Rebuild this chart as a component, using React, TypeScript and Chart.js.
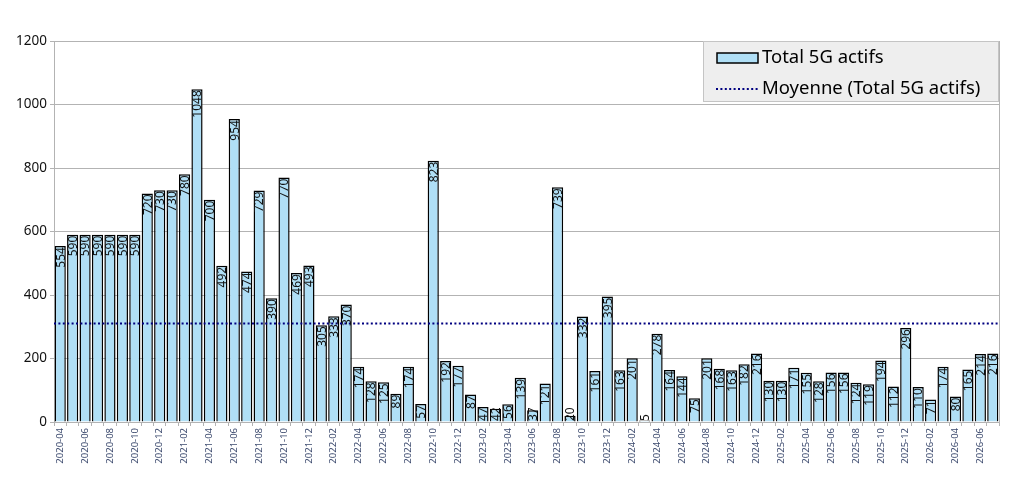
import { useEffect, useRef } from "react"
import { Chart, registerables } from "chart.js"

Chart.register(...registerables)

const months = [
  "2020-04", "2020-05", "2020-06", "2020-07", "2020-08", "2020-09", "2020-10", "2020-11", "2020-12",
  "2021-01", "2021-02", "2021-03", "2021-04", "2021-05", "2021-06", "2021-07", "2021-08", "2021-09", "2021-10", "2021-11", "2021-12",
  "2022-01", "2022-02", "2022-03", "2022-04", "2022-05", "2022-06", "2022-07", "2022-08", "2022-09", "2022-10", "2022-11", "2022-12",
  "2023-01", "2023-02", "2023-03", "2023-04", "2023-05", "2023-06", "2023-07", "2023-08", "2023-09", "2023-10", "2023-11", "2023-12",
  "2024-01", "2024-02", "2024-03", "2024-04", "2024-05", "2024-06", "2024-07", "2024-08", "2024-09", "2024-10", "2024-11", "2024-12",
  "2025-01", "2025-02", "2025-03", "2025-04", "2025-05", "2025-06", "2025-07", "2025-08", "2025-09", "2025-10", "2025-11", "2025-12",
  "2026-01", "2026-02", "2026-03", "2026-04", "2026-05", "2026-06", "2026-07",
]

const totals = [
  554, 590, 590, 590, 590, 590, 590, 720, 730,
  730, 780, 1048, 700, 492, 954, 474, 729, 390, 770, 469, 493,
  305, 333, 370, 174, 128, 125, 89, 174, 57, 823, 192, 177,
  87, 47, 42, 56, 139, 37, 121, 739, 20, 332, 161, 395,
  163, 201, 5, 278, 164, 144, 75, 201, 168, 163, 182, 216,
  130, 130, 171, 155, 128, 156, 156, 124, 119, 194, 112, 296,
  110, 71, 174, 80, 165, 214, 216,
]

const yTicks = [0, 200, 400, 600, 800, 1000, 1200]

const seriesName = "Total 5G actifs"
const meanName = "Moyenne (Total 5G actifs)"

const mean = totals.reduce((a, b) => a + b, 0) / totals.length

const BAR_FILL = "#b0dff6"
const MEAN_COLOR = "#000080"
const GRID = "#b3b3b3"
const FONT = "'Noto Sans', 'Open Sans', sans-serif"

// value labels, rotated, hanging from the top of each bar
const barLabels = {
  id: "barLabels",
  afterDatasetsDraw(chart: Chart) {
    const meta = chart.getDatasetMeta(1)
    const ctx = chart.ctx
    const base = chart.scales.y.getPixelForValue(0)
    ctx.save()
    ctx.font = `12px ${FONT}`
    ctx.fillStyle = "#111"
    ctx.textAlign = "right"
    ctx.textBaseline = "alphabetic"
    meta.data.forEach((bar: any, i: number) => {
      const text = String(totals[i])
      const len = ctx.measureText(text).width
      // short bars: keep the label above the axis
      const top = Math.min(bar.y + 1, base - len - 1)
      ctx.save()
      ctx.translate(bar.x, top)
      ctx.rotate(-Math.PI / 2)
      ctx.fillText(text, 0, 4.3)
      ctx.restore()
    })
    ctx.restore()
  },
}

// legend box inside the top right corner of the plot
const boxLegend = {
  id: "boxLegend",
  afterDraw(chart: Chart) {
    const { ctx, chartArea } = chart
    const w = 296
    const h = 61
    const x = chartArea.right - w
    const y = chartArea.top
    ctx.save()
    ctx.fillStyle = "#eeeeee"
    ctx.fillRect(x, y, w, h)
    ctx.strokeStyle = "#c4c4c4"
    ctx.lineWidth = 1
    ctx.strokeRect(x + 0.5, y + 0.5, w - 1, h - 1)

    // bar swatch
    ctx.fillStyle = BAR_FILL
    ctx.fillRect(x + 14, y + 12, 41, 10)
    ctx.strokeStyle = "#000"
    ctx.lineWidth = 1.5
    ctx.strokeRect(x + 14, y + 12, 41, 10)

    // dotted swatch
    ctx.strokeStyle = MEAN_COLOR
    ctx.lineWidth = 2
    ctx.setLineDash([2, 2.4])
    ctx.beginPath()
    ctx.moveTo(x + 13, y + 48)
    ctx.lineTo(x + 56, y + 48)
    ctx.stroke()
    ctx.setLineDash([])

    ctx.fillStyle = "#000"
    ctx.font = `18.5px ${FONT}`
    ctx.textAlign = "left"
    ctx.textBaseline = "middle"
    ctx.fillText(seriesName, x + 59, y + 17)
    ctx.fillText(meanName, x + 59, y + 48)
    ctx.restore()
  },
}

export default function App() {
  const chartRef = useRef<HTMLCanvasElement>(null)
  const chartInstance = useRef<Chart | null>(null)

  useEffect(() => {
    if (!chartRef.current) return
    if (chartInstance.current) {
      chartInstance.current.destroy()
    }
    const ctx = chartRef.current.getContext("2d")
    if (!ctx) return

    chartInstance.current = new Chart(ctx, {
      type: "bar",
      data: {
        labels: months,
        datasets: [
          {
            type: "line",
            label: meanName,
            data: [
              { x: 0, y: mean },
              { x: 1, y: mean },
            ],
            xAxisID: "x2",
            borderColor: MEAN_COLOR,
            borderWidth: 2,
            borderDash: [2, 2.4],
            pointRadius: 0,
            order: 0,
          } as any,
          {
            type: "bar",
            label: seriesName,
            data: totals,
            backgroundColor: BAR_FILL,
            borderColor: "#000",
            borderWidth: 1.5,
            barPercentage: 0.9,
            categoryPercentage: 1,
            grouped: false,
            order: 1,
          },
        ],
      },
      options: {
        responsive: true,
        maintainAspectRatio: false,
        animation: false,
        layout: {
          padding: { left: 8, top: 41, right: 32, bottom: 13 },
        },
        plugins: {
          legend: { display: false },
          tooltip: { enabled: false },
        },
        scales: {
          x: {
            type: "category",
            offset: true,
            afterFit: (s: any) => {
              s.height = 50
            },
            grid: {
              offset: true,
              drawOnChartArea: true,
              color: (c: any) => (c.type === "scale" ? GRID : "rgba(0,0,0,0)"),
              tickColor: GRID,
              tickLength: 4,
            },
            border: { color: GRID },
            ticks: {
              autoSkip: false,
              minRotation: 90,
              maxRotation: 90,
              padding: 2,
              color: "#3c4a6e",
              font: { family: FONT, size: 9.5 },
              callback: (_v: any, i: number) => (i % 2 === 0 ? months[i] : ""),
            },
          },
          x2: {
            type: "linear",
            display: false,
            offset: false,
            grid: { offset: false },
            min: 0,
            max: 1,
          },
          y: {
            min: yTicks[0],
            max: yTicks[yTicks.length - 1],
            afterFit: (s: any) => {
              s.width = 46
            },
            afterBuildTicks: (s: any) => {
              s.ticks = yTicks.map((v) => ({ value: v }))
            },
            grid: { color: GRID, tickLength: 4 },
            border: { color: GRID },
            ticks: {
              padding: 3,
              color: "#111",
              font: { family: FONT, size: 13.5 },
              callback: (v: any) => String(v),
            },
          },
        },
      },
      plugins: [barLabels, boxLegend],
    })

    return () => {
      if (chartInstance.current) {
        chartInstance.current.destroy()
        chartInstance.current = null
      }
    }
  }, [])

  return (
    <div style={{ position: "absolute", left: 0, top: 0, width: 1031, height: 485, background: "#fff" }}>
      <canvas ref={chartRef}></canvas>
    </div>
  )
}
